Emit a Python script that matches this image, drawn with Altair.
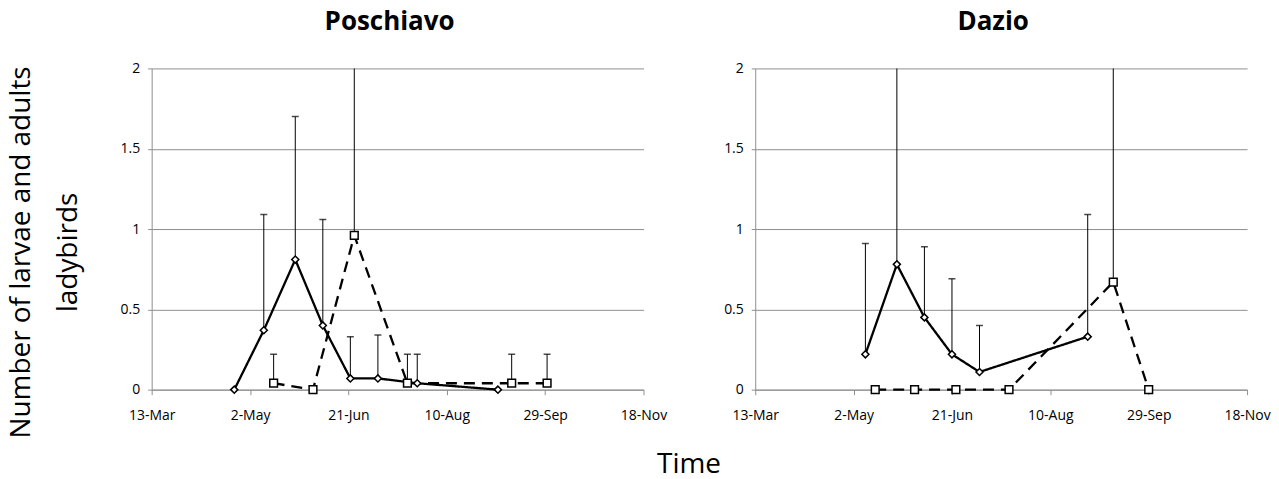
import altair as alt
import pandas as pd

# ---------------- data ----------------
# Poschiavo
p_s1_dates = ["2011-04-24", "2011-05-09", "2011-05-25", "2011-06-08", "2011-06-22", "2011-07-06", "2011-07-26", "2011-09-05"]
p_s1_vals = [0.0, 0.37, 0.81, 0.40, 0.07, 0.07, 0.04, 0.0]
p_s1_err = [None, 1.09, 1.70, 1.06, 0.33, 0.34, 0.22, None]
p_s2_dates = ["2011-05-14", "2011-06-03", "2011-06-24", "2011-07-21", "2011-09-12", "2011-09-30"]
p_s2_vals = [0.04, 0.0, 0.96, 0.04, 0.04, 0.04]
p_s2_err = [0.22, None, 2.40, 0.22, 0.22, 0.22]
# Dazio
d_s1_dates = ["2011-05-08", "2011-05-24", "2011-06-07", "2011-06-21", "2011-07-05", "2011-08-29"]
d_s1_vals = [0.22, 0.78, 0.45, 0.22, 0.11, 0.33]
d_s1_err = [0.91, 2.50, 0.89, 0.69, 0.40, 1.09]
d_s2_dates = ["2011-05-13", "2011-06-02", "2011-06-23", "2011-07-20", "2011-09-11", "2011-09-29"]
d_s2_vals = [0.0, 0.0, 0.0, 0.0, 0.67, 0.0]
d_s2_err = [None, None, None, None, 2.40, None]

tick_dates = ["2011-03-13", "2011-05-02", "2011-06-21", "2011-08-10", "2011-09-29", "2011-11-18"]
y_ticks = [0, 0.5, 1, 1.5, 2]
panel_titles = ["Poschiavo", "Dazio"]
y_title = ["Number of larvae and adults", "ladybirds"]
x_title = "Time"

FONT = "Open Sans"
GRID = "#8f8f8f"


def frame(dates, vals, errs, series):
    return pd.DataFrame({"date": dates, "value": vals, "err": errs, "series": series})


def dt(s):
    y, m, d = s.split("-")
    return alt.DateTime(year=int(y), month=int(m), date=int(d), utc=True)


xscale = alt.Scale(type="utc", domain=[dt(tick_dates[0]), dt(tick_dates[-1])], nice=False)
yscale = alt.Scale(domain=[0, 2], nice=False, zero=True)

xaxis = alt.Axis(
    values=[dt(s) for s in tick_dates], format="%-d-%b", labelFlush=False, labelOverlap=False,
    grid=False, domainColor=GRID, domainWidth=1, tickColor=GRID, tickSize=5, tickWidth=1,
    labelFont=FONT, labelFontSize=14, labelColor="black", labelPadding=14, title=None,
)


def make_panel(df, title, with_ytitle):
    if with_ytitle:
        yaxis = alt.Axis(
            values=y_ticks, format=".1~f", grid=True, gridColor=GRID, gridWidth=1,
            domainColor=GRID, tickColor=GRID, tickSize=4, labelPadding=8,
            labelFont=FONT, labelFontSize=14, labelColor="black",
            title=y_title, titleFont=FONT, titleFontSize=28, titleFontWeight="normal",
            titleColor="black", titleAngle=270, titleBaseline="middle", titleAlign="center",
            titleLineHeight=47, titleX=-130, titleY=184,
        )
    else:
        yaxis = alt.Axis(
            values=y_ticks, format=".1~f", grid=True, gridColor=GRID, gridWidth=1,
            domainColor=GRID, tickColor=GRID, tickSize=4, labelPadding=8,
            labelFont=FONT, labelFontSize=14, labelColor="black", title=None,
        )
    base = alt.Chart(df).encode(x=alt.X("date:T", scale=xscale, axis=xaxis))
    errdf = base.transform_filter("isValid(datum.err)")
    rules = errdf.mark_rule(color="black", strokeWidth=1, clip=True).encode(
        y=alt.Y("value:Q", scale=yscale, axis=yaxis), y2="err:Q"
    )
    caps = errdf.mark_tick(orient="horizontal", size=7, thickness=1.5, color="black", clip=True).encode(
        y=alt.Y("err:Q", scale=yscale)
    )
    lines = base.mark_line(color="black", strokeWidth=2.3).encode(
        y=alt.Y("value:Q", scale=yscale),
        strokeDash=alt.StrokeDash("series:N", scale=alt.Scale(domain=["s1", "s2"], range=[[1, 0], [11, 7]]), legend=None),
        detail="series:N",
    )
    points = base.mark_point(filled=True, fill="white", stroke="black", strokeWidth=1.5, opacity=1).encode(
        y=alt.Y("value:Q", scale=yscale),
        shape=alt.Shape("series:N", scale=alt.Scale(domain=["s1", "s2"], range=["diamond", "square"]), legend=None),
        size=alt.Size("series:N", scale=alt.Scale(domain=["s1", "s2"], range=[50, 60]), legend=None),
    )
    return alt.layer(rules, caps, lines, points).properties(
        width=493, height=322,
        title=alt.TitleParams(title, font=FONT, fontSize=26, fontWeight="bold", color="black",
                              anchor="middle", dx=-8, baseline="alphabetic", offset=6),
    )


pos = pd.concat([frame(p_s1_dates, p_s1_vals, p_s1_err, "s1"), frame(p_s2_dates, p_s2_vals, p_s2_err, "s2")])
daz = pd.concat([frame(d_s1_dates, d_s1_vals, d_s1_err, "s1"), frame(d_s2_dates, d_s2_vals, d_s2_err, "s2")])

chart = alt.hconcat(
    make_panel(pos, panel_titles[0], True),
    make_panel(daz, panel_titles[1], False),
    spacing=56,
).properties(
    padding=0,
    title=alt.TitleParams(x_title, orient="bottom", anchor="middle", font=FONT, fontSize=28,
                          fontWeight="normal", color="black", offset=13, baseline="top", dx=50),
).configure_view(stroke=None)

chart.save("out.html", embed_options={"renderer": "svg", "actions": False})
